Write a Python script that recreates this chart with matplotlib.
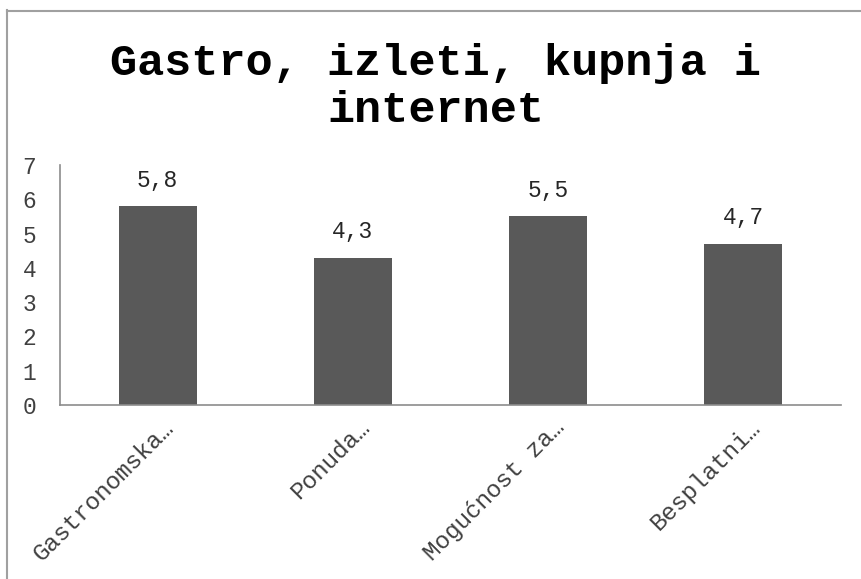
import matplotlib
matplotlib.use('Agg')
import matplotlib.pyplot as plt
import matplotlib.transforms as mtransforms
from matplotlib.lines import Line2D

plt.rcParams['font.family'] = ['Liberation Mono', 'DejaVu Sans Mono']

# data
kategorije = ['Gastronomska…', 'Ponuda…', 'Mogućnost za…', 'Besplatni…']
vrijednosti = [5.8, 4.3, 5.5, 4.7]
oznake = ['5,8', '4,3', '5,5', '4,7']
y_ticks = [0, 1, 2, 3, 4, 5, 6, 7]

fig = plt.figure(figsize=(8.62, 5.79), dpi=100)
ax = fig.add_axes([60/862, 1 - 405/579, 781/862, 240/579])

x = list(range(len(kategorije)))
ax.bar(x, vrijednosti, width=0.4, color='#595959')
ax.set_xlim(-0.5, 3.5)
ax.set_ylim(0, 7)

for xi, v, t in zip(x, vrijednosti, oznake):
    ax.annotate(t, (xi, v), xytext=(0, 26), textcoords='offset pixels',
                ha='center', va='center', fontsize=16.5, color='#262626')

ax.set_yticks(y_ticks)
ax.set_yticklabels([str(t) for t in y_ticks], fontsize=16.5, color='#404040')
ax.tick_params(axis='y', length=0, pad=17)
ax.set_xticks(x)
ax.set_xticklabels(kategorije, rotation=45, ha='right', va='center',
                   rotation_mode='anchor', fontsize=17.5, color='#404040')
ax.tick_params(axis='x', length=0, pad=0)
offset = mtransforms.ScaledTranslation(0.13, -0.19, fig.dpi_scale_trans)
for lbl in ax.get_xticklabels():
    lbl.set_transform(lbl.get_transform() + offset)

for s in ['top', 'right']:
    ax.spines[s].set_visible(False)
for s in ['left', 'bottom']:
    ax.spines[s].set_color('#8c8c8c')
    ax.spines[s].set_linewidth(1.2)

fig.text(436/862, 1 - 63/579, 'Gastro, izleti, kupnja i', ha='center', va='center',
         fontsize=32.5, fontweight='bold')
fig.text(436/862, 1 - 111/579, 'internet', ha='center', va='center',
         fontsize=32.5, fontweight='bold')

# okvir
fig.add_artist(Line2D([7.5/862, 7.5/862], [0, 1 - 10/579], color='#a0a0a0', lw=1.5,
                      transform=fig.transFigure))
fig.add_artist(Line2D([7.5/862, 1], [1 - 10.5/579, 1 - 10.5/579], color='#a0a0a0', lw=1.5,
                      transform=fig.transFigure))

plt.savefig('out.png', dpi=100)
